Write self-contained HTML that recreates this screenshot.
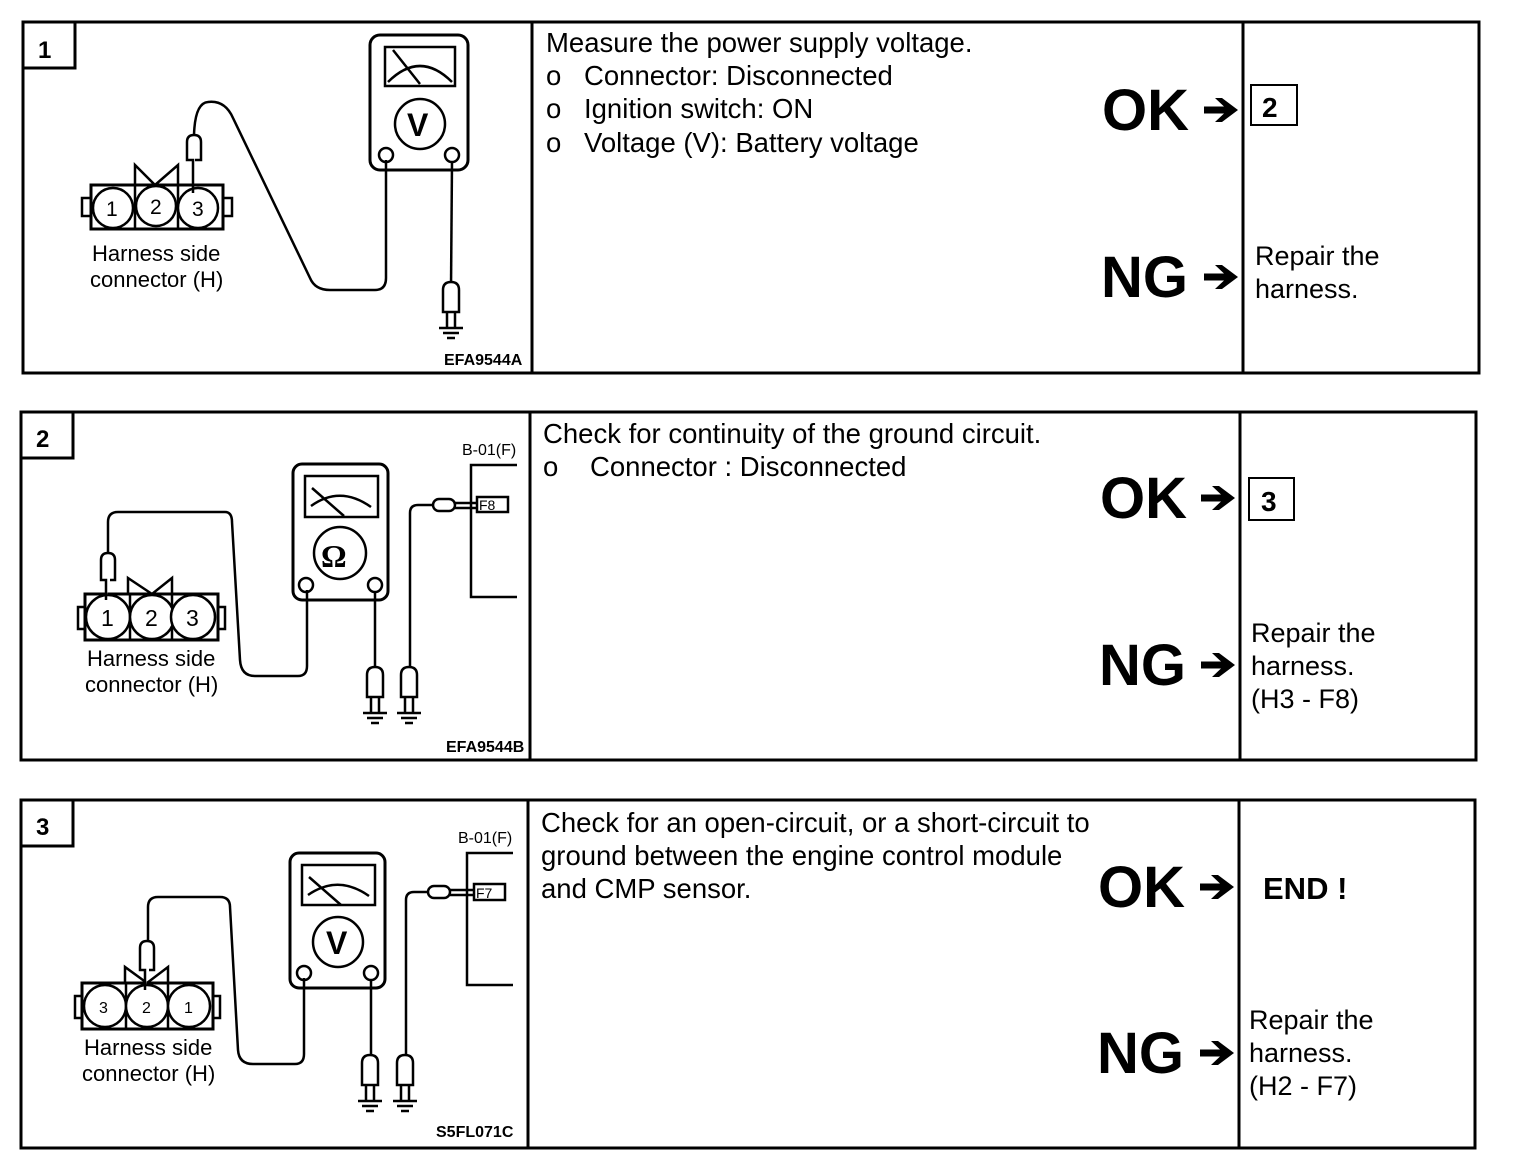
<!DOCTYPE html>
<html><head><meta charset="utf-8"><style>
html,body{margin:0;padding:0;background:#fff;}
svg{display:block;}
text{font-family:"Liberation Sans",sans-serif;fill:#000;}
.t{font-size:27.5px;}
.r{font-size:27px;}
.big{font-size:58px;font-weight:bold;}
.s{font-size:22px;}
.xs{font-size:16px;font-weight:bold;}
.b{font-size:16px;}
</style></head><body>
<svg width="1520" height="1168" viewBox="0 0 1520 1168" xmlns="http://www.w3.org/2000/svg">
<defs>
<g id="arr"><path d="M0,-3.5 L20,-3.5 L11,-12 L18,-12 L34,0 L18,12 L11,12 L20,3.5 L0,3.5 Z" fill="#000"/></g>
<g id="gnd" stroke="#000" stroke-width="2.5" fill="none">
<path d="M-8,-30 q0,-8 8,-8 q8,0 8,8 v22 h-16 Z" fill="#fff"/>
<path d="M-4,-8 v16 M4,-8 v16"/>
<path d="M-12,8 h24 M-8,13 h16 M-4,18 h8"/>
</g>
</defs>
<g fill="none" stroke="#000" stroke-width="3">
<rect x="23" y="22" width="1456" height="351"/>
<line x1="532" y1="22" x2="532" y2="373"/>
<line x1="1243" y1="22" x2="1243" y2="373"/>
<rect x="23" y="22" width="52" height="46"/>
<rect x="21" y="412" width="1455" height="348"/>
<line x1="530" y1="412" x2="530" y2="760"/>
<line x1="1240" y1="412" x2="1240" y2="760"/>
<rect x="21" y="412" width="52" height="46"/>
<rect x="21" y="800" width="1454" height="348"/>
<line x1="528" y1="800" x2="528" y2="1148"/>
<line x1="1239" y1="800" x2="1239" y2="1148"/>
<rect x="21" y="800" width="52" height="46"/>
<rect x="1251" y="85" width="46" height="40" stroke-width="2"/>
<rect x="1249" y="478" width="45" height="42" stroke-width="2"/>
</g>

<text x="38" y="58" style="font-size:24px;font-weight:bold">1</text>
<text x="36" y="447" style="font-size:24px;font-weight:bold">2</text>
<text x="36" y="835" style="font-size:24px;font-weight:bold">3</text>

<!-- Panel 1 diagram -->
<g fill="none" stroke="#000" stroke-width="2.5">
<rect x="91" y="185" width="132" height="44" stroke-width="3"/>
<line x1="135" y1="185" x2="135" y2="229"/><line x1="178" y1="185" x2="178" y2="229"/>
<rect x="82" y="198" width="9" height="18"/><rect x="223" y="198" width="9" height="18"/>
<circle cx="113" cy="208" r="20" fill="#fff"/><circle cx="156" cy="206" r="20" fill="#fff"/><circle cx="198" cy="208" r="20" fill="#fff"/>
<path d="M135,185 V165 L155,185 L178,165 V185"/>
<path d="M193,193 V160 h-6 v-18 q0,-7 7,-7 q7,0 7,7 v18 h-6" fill="#fff"/>
<path d="M194,135 Q195,103 208,102 Q225,100 233,118 L310,278 Q315,290 330,290 L375,290 Q386,290 386,278 V160"/>
<rect x="370" y="35" width="98" height="135" rx="10" stroke-width="3"/>
<rect x="385" y="47" width="70" height="39"/>
<path d="M388,82 Q420,50 452,82 M393,50 L420,84"/>
<circle cx="420" cy="124" r="25"/>
<circle cx="386" cy="155" r="7"/><circle cx="452" cy="155" r="7"/>
<line x1="452" y1="162" x2="451" y2="288"/>
</g>
<use href="#gnd" x="451" y="320"/>
<text x="407" y="136" style="font-size:32px;font-weight:bold">V</text>
<text x="92" y="261" class="s">Harness side</text>
<text x="90" y="287" class="s">connector (H)</text>
<text x="444" y="365" class="xs">EFA9544A</text>

<!-- Panel 2 diagram -->
<g fill="none" stroke="#000" stroke-width="2.5">
<rect x="85" y="594" width="133" height="46" stroke-width="3"/>
<line x1="130" y1="594" x2="130" y2="640"/><line x1="172" y1="594" x2="172" y2="640"/>
<rect x="78" y="607" width="7" height="22"/><rect x="218" y="607" width="7" height="22"/>
<circle cx="108" cy="617" r="22" fill="#fff"/><circle cx="152" cy="617" r="22" fill="#fff"/><circle cx="193" cy="617" r="22" fill="#fff"/>
<path d="M128,594 V578 L152,594 L172,578 V594"/>
<path d="M106,600 V580 h-5 v-20 q0,-7 7,-7 q7,0 7,7 v20 h-5" fill="#fff"/>
<path d="M108,553 V522 Q108,512 118,512 L225,512 Q232,512 232,522 L240,660 Q241,676 255,676 L298,676 Q307,676 307,666 V590"/>
<rect x="293" y="464" width="95" height="136" rx="9" stroke-width="3"/>
<rect x="305" y="476" width="73" height="41"/>
<path d="M311,506 Q340,485 371,507 M312,488 L344,516"/>
<circle cx="340" cy="553" r="26"/>
<circle cx="306" cy="585" r="7"/><circle cx="375" cy="585" r="7"/>
<line x1="375" y1="592" x2="375" y2="670"/>
<path d="M410,672 V513 Q410,505 418,505 L433,505"/>
<rect x="433" y="499" width="22" height="12" rx="6" fill="#fff"/>
<path d="M455,503 h22 M455,508 h22"/>
<rect x="477" y="497" width="31" height="15" fill="#fff"/>
<path d="M517,465 H471 V597 H517"/>
</g>
<use href="#gnd" x="375" y="705"/>
<use href="#gnd" x="409" y="705"/>
<text x="321" y="567" style="font-size:32px;font-weight:bold;font-family:'Liberation Serif',serif">Ω</text>
<text x="479" y="510" style="font-size:14px">F8</text>
<text x="462" y="455" class="b">B-01(F)</text>
<text x="87" y="666" class="s">Harness side</text>
<text x="85" y="692" class="s">connector (H)</text>
<text x="446" y="752" class="xs">EFA9544B</text>

<!-- Panel 3 diagram -->
<g fill="none" stroke="#000" stroke-width="2.5">
<rect x="82" y="983" width="131" height="46" stroke-width="3"/>
<line x1="126" y1="983" x2="126" y2="1029"/><line x1="168" y1="983" x2="168" y2="1029"/>
<rect x="75" y="996" width="7" height="22"/><rect x="213" y="996" width="7" height="22"/>
<circle cx="105" cy="1006" r="21" fill="#fff"/><circle cx="147" cy="1006" r="21" fill="#fff"/><circle cx="189" cy="1006" r="21" fill="#fff"/>
<path d="M125,983 V967 L147,983 L168,967 V983"/>
<path d="M145,990 V970 h-5 v-22 q0,-7 7,-7 q7,0 7,7 v22 h-5" fill="#fff"/>
<path d="M148,941 V907 Q148,897 158,897 L220,897 Q230,897 230,907 L238,1050 Q239,1064 253,1064 L295,1064 Q304,1064 304,1054 V978"/>
<rect x="290" y="853" width="95" height="135" rx="9" stroke-width="3"/>
<rect x="302" y="865" width="73" height="40"/>
<path d="M308,895 Q338,874 369,896 M309,877 L341,905"/>
<circle cx="338" cy="942" r="25"/>
<circle cx="304" cy="973" r="7"/><circle cx="371" cy="973" r="7"/>
<line x1="371" y1="980" x2="371" y2="1058"/>
<path d="M406,1060 V900 Q406,892 414,892 L428,892"/>
<rect x="428" y="886" width="22" height="12" rx="6" fill="#fff"/>
<path d="M450,890 h24 M450,895 h24"/>
<rect x="474" y="884" width="31" height="16" fill="#fff"/>
<path d="M513,853 H467 V985 H513"/>
</g>
<use href="#gnd" x="370" y="1093"/>
<use href="#gnd" x="405" y="1093"/>
<text x="326" y="954" style="font-size:32px;font-weight:bold">V</text>
<text x="476" y="898" style="font-size:14px">F7</text>
<text x="458" y="843" class="b">B-01(F)</text>
<text x="99" y="1013" style="font-size:16px">3</text><text x="142" y="1013" style="font-size:16px">2</text><text x="184" y="1013" style="font-size:16px">1</text>
<text x="84" y="1055" class="s">Harness side</text>
<text x="82" y="1081" class="s">connector (H)</text>
<text x="436" y="1137" class="xs">S5FL071C</text>

<text x="106" y="216" style="font-size:21px">1</text><text x="150" y="214" style="font-size:21px">2</text><text x="192" y="216" style="font-size:21px">3</text>
<text x="101" y="626" style="font-size:23px">1</text><text x="145" y="626" style="font-size:23px">2</text><text x="186" y="626" style="font-size:23px">3</text>

<!-- Panel 1 text -->
<text x="546" y="52" class="t">Measure the power supply voltage.</text>
<text x="546" y="85" class="t">o</text><text x="584" y="85" class="t">Connector: Disconnected</text>
<text x="546" y="118" class="t">o</text><text x="584" y="118" class="t">Ignition switch: ON</text>
<text x="546" y="152" class="t">o</text><text x="584" y="152" class="t">Voltage (V): Battery voltage</text>
<text x="1102" y="130" class="big">OK</text><use href="#arr" x="1204" y="110"/>
<text x="1262" y="117" style="font-size:28px;font-weight:bold">2</text>
<text x="1101" y="297" class="big">NG</text><use href="#arr" x="1204" y="277"/>
<text x="1255" y="265" class="r">Repair the</text>
<text x="1255" y="298" class="r">harness.</text>

<!-- Panel 2 text -->
<text x="543" y="443" class="t">Check for continuity of the ground circuit.</text>
<text x="543" y="476" class="t">o</text><text x="590" y="476" class="t">Connector : Disconnected</text>
<text x="1100" y="518" class="big">OK</text><use href="#arr" x="1201" y="498"/>
<text x="1261" y="511" style="font-size:28px;font-weight:bold">3</text>
<text x="1099" y="685" class="big">NG</text><use href="#arr" x="1201" y="665"/>
<text x="1251" y="642" class="r">Repair the</text>
<text x="1251" y="675" class="r">harness.</text>
<text x="1251" y="708" class="r">(H3 - F8)</text>

<!-- Panel 3 text -->
<text x="541" y="832" class="t">Check for an open-circuit, or a short-circuit to</text>
<text x="541" y="865" class="t">ground between the engine control module</text>
<text x="541" y="898" class="t">and CMP sensor.</text>
<text x="1098" y="907" class="big">OK</text><use href="#arr" x="1200" y="887"/>
<text x="1263" y="899" style="font-size:31px;font-weight:bold">END !</text>
<text x="1097" y="1073" class="big">NG</text><use href="#arr" x="1200" y="1053"/>
<text x="1249" y="1029" class="r">Repair the</text>
<text x="1249" y="1062" class="r">harness.</text>
<text x="1249" y="1095" class="r">(H2 - F7)</text>
</svg>
</body></html>
